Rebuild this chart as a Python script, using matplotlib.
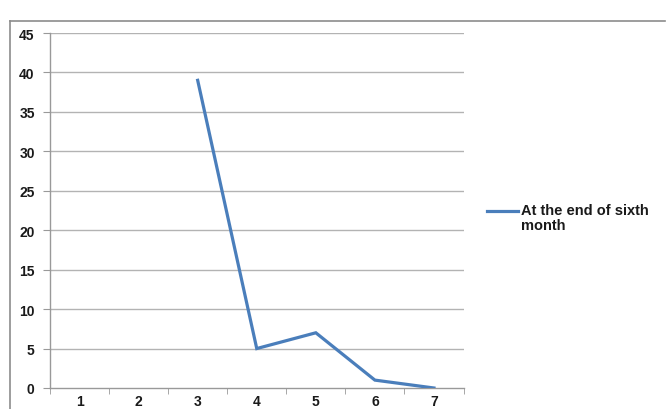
import matplotlib
matplotlib.use("Agg")
import matplotlib.pyplot as plt
from matplotlib.lines import Line2D
import numpy as np

plt.rcParams['font.family'] = ['Liberation Sans', 'DejaVu Sans']

categories = [1, 2, 3, 4, 5, 6, 7]
series_name = "At the end of sixth\nmonth"
values = [np.nan, np.nan, 39, 5, 7, 1, 0]
y_ticks = [0, 5, 10, 15, 20, 25, 30, 35, 40, 45]

W, H = 666, 410
fig = plt.figure(figsize=(W / 100, H / 100), dpi=100)
fig.patch.set_facecolor('white')

# chart-area frame (open at right and bottom)
frame_col = '#8c8c8c'
fig.add_artist(Line2D([10 / W, 10 / W], [0, 1 - 22 / H], transform=fig.transFigure,
                      color=frame_col, lw=1.2))
fig.add_artist(Line2D([10 / W, 665 / W], [1 - 22 / H, 1 - 22 / H], transform=fig.transFigure,
                      color=frame_col, lw=1.2))

left, right, top, bottom = 50, 463.5, 34, 389
ax = fig.add_axes([left / W, 1 - bottom / H, (right - left) / W, (bottom - top) / H])

x = np.arange(1, len(categories) + 1)
ax.plot(x, values, color='#4A7EBB', lw=2.3, solid_joinstyle='miter', zorder=3)

ax.set_xlim(0.5, len(categories) + 0.5)
ax.set_ylim(0, 45)
ax.set_yticks(y_ticks)
ax.set_yticklabels([str(v) for v in y_ticks])
ax.set_xticks(x)
ax.set_xticklabels([str(c) for c in categories])
ax.set_xticks(np.arange(0.5, len(categories) + 1, 1), minor=True)

grid_col = '#b3b3b3'
for v in y_ticks[1:]:
    ax.axhline(v, color=grid_col, lw=1.0, zorder=1)

for s in ['top', 'right']:
    ax.spines[s].set_visible(False)
for s in ['left', 'bottom']:
    ax.spines[s].set_color('#999999')
    ax.spines[s].set_linewidth(1.0)

ax.tick_params(axis='y', length=5, color='#999999', labelsize=10, pad=6)
ax.tick_params(axis='x', which='major', length=0, labelsize=10, pad=4)
ax.tick_params(axis='x', which='minor', length=4, color='#999999', direction='out')
for lab in ax.get_xticklabels() + ax.get_yticklabels():
    lab.set_fontweight('bold')
    lab.set_color('#1a1a1a')

# legend
ly = 1 - 212 / H
fig.add_artist(Line2D([487 / W, 518 / W], [ly, ly], transform=fig.transFigure,
                      color='#4A7EBB', lw=2.3))
fig.text(521 / W, ly + 8 / H, series_name, fontsize=10.5, fontweight='bold', color='#1a1a1a',
         va='top', ha='left', linespacing=1.1, transform=fig.transFigure)

fig.savefig('out.png', dpi=100, facecolor='white')
